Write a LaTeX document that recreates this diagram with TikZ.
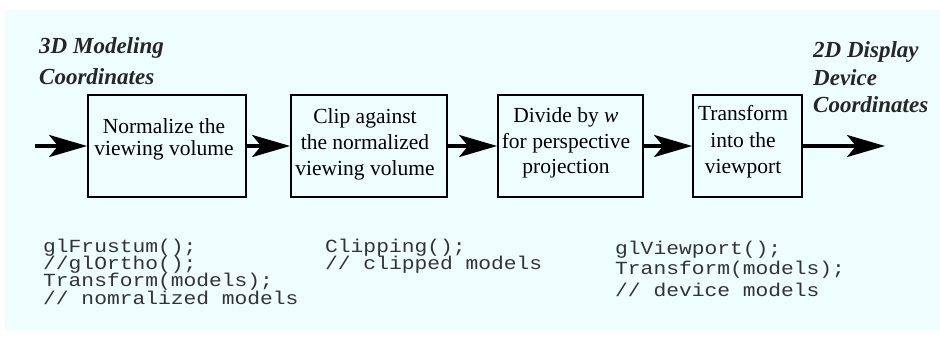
\documentclass[tikz,border=0pt]{standalone}
\usepackage{fontspec}
\setmainfont{Liberation Serif}
\newfontfamily\codefont[FakeStretch=1.15]{Liberation Mono}
\usetikzlibrary{arrows.meta}
\definecolor{bgcyan}{RGB}{238,254,255}
\begin{document}
\begin{tikzpicture}[x=1pt,y=-1pt,
  stagebox/.style={draw=black,line width=1.8pt,minimum width=#1,minimum height=102pt,inner sep=0pt},
  boxtext/.style={align=center,font=\fontsize{21.5}{#1}\selectfont,inner sep=0pt},
  coordlabel/.style={anchor=west,align=left,font=\fontsize{23}{27}\selectfont\bfseries\itshape,text=black!85,inner sep=0pt},
  codeline/.style={anchor=west,font=\fontsize{18.5}{17}\selectfont\codefont,text=black!80,inner sep=0pt,text height=11pt,text depth=3pt},
  bigarrow/.style={line width=3.6pt,-{Stealth[length=38pt,width=22pt,inset=9pt]}}]
\useasboundingbox (0,0) rectangle (940,338);
\fill[bgcyan] (5,10) rectangle (940,330);
% boxes
\node[stagebox=158pt] (b1) at (167,146) {};
\node[stagebox=156pt] (b2) at (369,146) {};
\node[stagebox=145pt] (b3) at (570.5,146) {};
\node[stagebox=109pt] (b4) at (747.5,146) {};
% box texts
\node[boxtext=22pt] (t1) at (164,139) {Normalize the\\viewing volume};
\node[boxtext=26pt] (t2) at (365,144) {Clip against\\the normalized\\viewing volume};
\node[boxtext=25.5pt] (t3) at (566,143) {Divide by \textit{w}\\for perspective\\projection};
\node[boxtext=26.5pt] (t4) at (743,142) {Transform\\into the\\viewport};
% labels
\node[coordlabel] (l1) at (39,48) {3D Modeling};
\node[coordlabel] (l2) at (39,77) {Coordinates};
\node[coordlabel] (r1) at (813,52) {2D Display};
\node[coordlabel] (r2) at (813,78) {Device};
\node[coordlabel] (r3) at (813,105) {Coordinates};
% arrows
\coordinate (inp) at (35,146);
\coordinate (outp) at (885,146);
\draw[bigarrow] (inp) -- (b1.west);
\draw[bigarrow] (b1.east) -- (b2.west);
\draw[bigarrow] (b2.east) -- (b3.west);
\draw[bigarrow] (b3.east) -- (b4.west);
\draw[bigarrow] (b4.east) -- (outp);
% code
\node[codeline] (c1a) at (43,248) {glFrustum();};
\node[codeline] (c1b) at (43,265) {//glOrtho();};
\node[codeline] (c1c) at (43,282) {Transform(models);};
\node[codeline] (c1d) at (43,300) {// nomralized models};
\node[codeline] (c2a) at (325,248) {Clipping();};
\node[codeline] (c2b) at (325,265) {// clipped models};
\node[codeline] (c3a) at (615,250) {glViewport();};
\node[codeline] (c3b) at (615,270) {Transform(models);};
\node[codeline] (c3c) at (615,292) {// device models};
\end{tikzpicture}
\end{document}
